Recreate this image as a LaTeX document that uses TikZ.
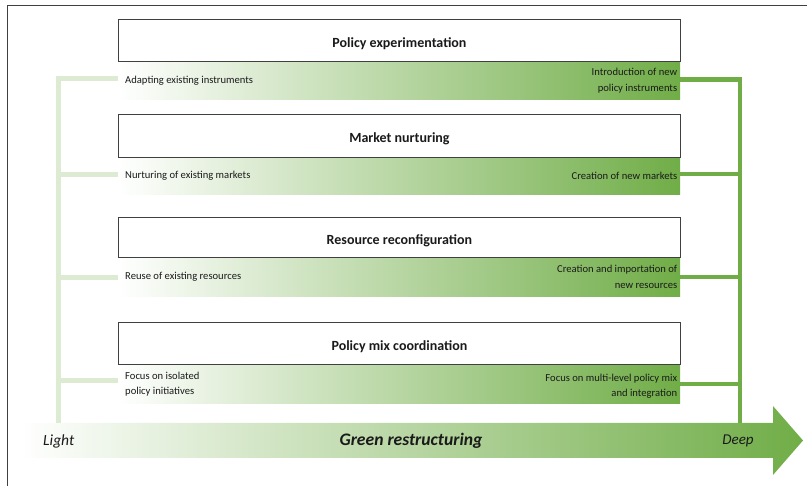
\documentclass[tikz,border=0pt]{standalone}
\usepackage{fontspec}
\setmainfont{Carlito}
\definecolor{gdeep}{HTML}{70AD47}
\definecolor{glight}{HTML}{DDEBD3}
\definecolor{framegray}{HTML}{404040}
\definecolor{txt}{HTML}{1A1A1A}
\begin{document}
\begin{tikzpicture}[x=1pt,y=-1pt,
  box/.style={draw=framegray, line width=0.9pt, fill=white, minimum width=562pt,
    minimum height=42pt, inner sep=0pt, anchor=north west},
  boxtitle/.style={inner sep=0pt, text=txt, font=\fontsize{14}{16}\selectfont\bfseries},
  band/.style={minimum width=562pt, minimum height=37pt, inner sep=0pt,
    anchor=north west, left color=white, right color=gdeep},
  ltext/.style={anchor=west, inner sep=0pt, align=left, text=txt,
    font=\fontsize{10.6}{15.5}\selectfont},
  rtext/.style={anchor=east, inner sep=0pt, align=right, text=txt,
    font=\fontsize{10.6}{15.5}\selectfont},
  lconn/.style={draw=glight, line width=5pt},
  dconn/.style={draw=gdeep, line width=4.5pt},
  axislabel/.style={inner sep=0pt, text=txt, font=\fontsize{15.5}{17}\selectfont\itshape}
]
\useasboundingbox (0,0) rectangle (807,486);
% outer frame
\draw[framegray, line width=1pt] (7,486) -- (7,5.5) -- (807,5.5);

% arrow
\coordinate (lbot) at (58,423);
\coordinate (rbot) at (740,423);
\path[left color=white, right color=gdeep]
  (20,423) -- (773,423) -- (773,406) -- (803,440.5) -- (773,475) -- (773,458) -- (20,458) -- cycle;
\node[axislabel, anchor=west] (light) at (43,441) {Light};
\node[axislabel, font=\fontsize{17.6}{19}\selectfont\bfseries\itshape] (green) at (411,441) {Green restructuring};
\node[axislabel, font=\fontsize{15}{17}\selectfont\itshape] (deep) at (738,441) {Deep};

% boxes and bands
\node[box] (p1) at (118,19) {};
\node[boxtitle] (t1) at ([yshift=-3pt]p1.center) {Policy experimentation};
\node[band] (b1) at (p1.south west) {};
\node[box, minimum height=43pt] (p2) at (118,114) {};
\node[boxtitle] (t2) at ([yshift=-3pt]p2.center) {Market nurturing};
\node[band, minimum height=36pt] (b2) at (p2.south west) {};
\node[box, minimum height=40pt] (p3) at (118,217) {};
\node[boxtitle] (t3) at ([yshift=-3pt]p3.center) {Resource reconfiguration};
\node[band, minimum height=38pt] (b3) at (p3.south west) {};
\node[box] (p4) at (118,322) {};
\node[boxtitle] (t4) at ([yshift=-3pt]p4.center) {Policy mix coordination};
\node[band, minimum height=38pt] (b4) at (p4.south west) {};

% band texts
\node[ltext] (l1) at ([xshift=7pt]b1.west) {Adapting existing instruments};
\node[rtext] (r1) at ([xshift=-3pt]b1.east) {Introduction of new\\policy instruments};
\node[ltext] (l2) at ([xshift=7pt]b2.west) {Nurturing of existing markets};
\node[rtext] (r2) at ([xshift=-3pt]b2.east) {Creation of new markets};
\node[ltext] (l3) at ([xshift=7pt]b3.west) {Reuse of existing resources};
\node[rtext] (r3) at ([xshift=-3pt]b3.east) {Creation and importation of\\new resources};
\node[ltext] (l4) at ([xshift=7pt]b4.west) {Focus on isolated\\policy initiatives};
\node[rtext] (r4) at ([xshift=-3pt,yshift=-2pt]b4.east) {Focus on multi-level policy mix\\and integration};

% left connectors
\draw[lconn] ([yshift=2pt]b1.west) -| (lbot);
\draw[lconn] ([yshift=2pt]b2.west) -- ([yshift=2pt]b2.west -| lbot);
\draw[lconn] (b3.west) -- (b3.west -| lbot);
\draw[lconn] ([yshift=4pt]b4.west) -- ([yshift=4pt]b4.west -| lbot);
% right connectors
\draw[dconn] ([yshift=1pt]b1.east) -| (rbot);
\draw[dconn] ([yshift=2pt]b2.east) -- ([yshift=2pt]b2.east -| rbot);
\draw[dconn] (b3.east) -- (b3.east -| rbot);
\draw[dconn] (b4.east) -- (b4.east -| rbot);
\end{tikzpicture}
\end{document}
